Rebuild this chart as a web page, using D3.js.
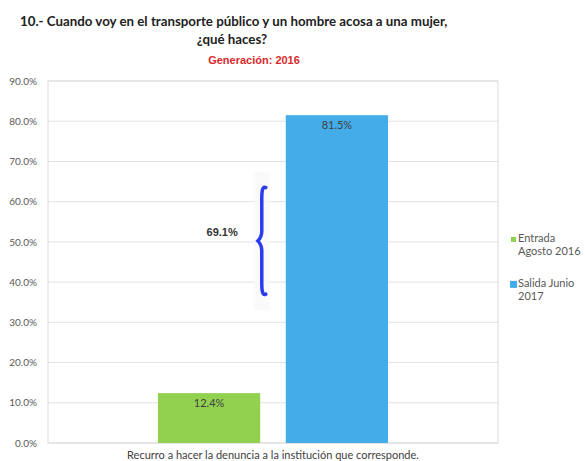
<!DOCTYPE html>
<html>
<head>
<meta charset="utf-8">
<script src="https://cdnjs.cloudflare.com/ajax/libs/d3/7.8.5/d3.min.js"></script>
<style>
  body { margin: 0; background: #fff; }
  svg text { font-family: Lato, "Liberation Sans", sans-serif; }
</style>
</head>
<body>
<div id="chart"></div>
<script>
// data
const categories = ["Recurro a hacer la denuncia a la institución que corresponde."];
const seriesNames = [["Entrada", "Agosto 2016"], ["Salida Junio", "2017"]];
const seriesValues = [12.4, 81.5];
const seriesColors = ["#92d050", "#43ace9"];
const yTicks = [0, 10, 20, 30, 40, 50, 60, 70, 80, 90];
const gapLabel = "69.1%";
const braceRange = [37, 63.5]; // where the brace sits, in % units

const width = 585, height = 461;
const margin = { top: 81, right: 87, bottom: 18, left: 48 };

const svg = d3.select("#chart").append("svg")
    .attr("width", width)
    .attr("height", height);

// titles
svg.append("text")
    .attr("x", 20).attr("y", 26)
    .style("font-size", "13.3px").style("font-weight", "bold").attr("fill", "#222")
    .text("10.- Cuando voy en el transporte público y un hombre acosa a una mujer,");
svg.append("text")
    .attr("x", 232).attr("y", 44).attr("text-anchor", "middle")
    .style("font-size", "13.3px").style("font-weight", "bold").attr("fill", "#222")
    .text("¿qué haces?");
svg.append("text")
    .attr("x", 254).attr("y", 64).attr("text-anchor", "middle")
    .style("font-family", "'Liberation Sans', Arial, sans-serif")
    .style("font-size", "11px").style("font-weight", "bold").attr("fill", "#d9292b")
    .text("Generación: 2016");

const x0 = margin.left, x1 = width - margin.right;
const y0 = height - margin.bottom, y1 = margin.top;

const y = d3.scaleLinear().domain([0, 90]).range([y0, y1]);
const xCat = d3.scaleBand().domain(categories).range([x0, x1]);
const xSeries = d3.scaleBand().domain(d3.range(seriesValues.length))
    .range([0, xCat.bandwidth()]).paddingInner(0.2).paddingOuter(0.86);

// grid
svg.append("g")
    .selectAll("line")
    .data(yTicks)
    .join("line")
    .attr("x1", x0).attr("x2", x1)
    .attr("y1", d => y(d)).attr("y2", d => y(d))
    .attr("stroke", "#e2e2e2").attr("stroke-width", 1);

svg.append("rect")
    .attr("x", x0).attr("y", y1)
    .attr("width", x1 - x0).attr("height", y0 - y1)
    .attr("fill", "none").attr("stroke", "#dcdcdc").attr("stroke-width", 1);

// y axis labels
const yAxis = d3.axisLeft(y).tickValues(yTicks).tickSize(0).tickPadding(11)
    .tickFormat(d => d.toFixed(1) + "%");
svg.append("g")
    .attr("transform", `translate(${x0},0)`)
    .call(yAxis)
    .call(g => g.select(".domain").remove())
    .call(g => g.selectAll("text").style("font-size", "10px").attr("fill", "#595959")
        .style("font-family", "Lato, 'Liberation Sans', sans-serif"));

// x axis label
svg.append("g")
    .attr("transform", `translate(0,${y0})`)
    .call(d3.axisBottom(xCat).tickSize(0).tickPadding(8))
    .call(g => g.select(".domain").remove())
    .call(g => g.selectAll("text").style("font-size", "11px").attr("fill", "#404040")
        .style("font-family", "Lato, 'Liberation Sans', sans-serif"));

// bars
const bars = svg.append("g").attr("transform", `translate(${xCat(categories[0])},0)`);
bars.selectAll("rect")
    .data(seriesValues)
    .join("rect")
    .attr("x", (d, i) => xSeries(i))
    .attr("width", xSeries.bandwidth())
    .attr("y", d => y(d))
    .attr("height", d => y(0) - y(d))
    .attr("fill", (d, i) => seriesColors[i]);

bars.selectAll("text")
    .data(seriesValues)
    .join("text")
    .attr("x", (d, i) => xSeries(i) + xSeries.bandwidth() / 2)
    .attr("y", d => y(d) + 14)
    .attr("text-anchor", "middle")
    .style("font-size", "11px").attr("fill", "#404040")
    .text(d => d.toFixed(1) + "%");

// brace showing the difference
const bx = xCat(categories[0]) + xSeries(1) - 28;
const bTop = y(braceRange[1]), bBot = y(braceRange[0]), bMid = (bTop + bBot) / 2;
svg.append("rect")
    .attr("x", bx - 4).attr("y", bTop - 16)
    .attr("width", 16).attr("height", bBot - bTop + 32)
    .attr("fill", "#f9f9f9").attr("opacity", 0.8);
svg.append("path")
    .attr("d", `M${bx + 8},${bTop} C${bx + 4},${bTop - 2} ${bx + 4},${bTop + 6} ${bx + 4},${bTop + 12}
        L${bx + 4},${bMid - 10} C${bx + 4},${bMid - 4} ${bx},${bMid} ${bx},${bMid}
        C${bx},${bMid} ${bx + 4},${bMid + 4} ${bx + 4},${bMid + 10}
        L${bx + 4},${bBot - 12} C${bx + 4},${bBot - 6} ${bx + 4},${bBot + 2} ${bx + 8},${bBot}`)
    .attr("fill", "none").attr("stroke", "#2b3bf0").attr("stroke-width", 3.5)
    .attr("stroke-linecap", "round");
svg.append("text")
    .attr("x", bx - 20).attr("y", bMid - 5)
    .attr("text-anchor", "end")
    .style("font-family", "'Liberation Sans', Arial, sans-serif")
    .style("font-size", "11px").style("font-weight", "bold").attr("fill", "#333")
    .text(gapLabel);

// legend
const legend = svg.append("g").attr("transform", `translate(${x1 + 12},${y(50)})`);
const items = legend.selectAll("g")
    .data(seriesNames)
    .join("g")
    .attr("transform", (d, i) => `translate(0,${i * 45})`);
items.append("rect")
    .attr("x", (d, i) => i === 0 ? 1 : 0).attr("y", (d, i) => i === 0 ? -5 : -6)
    .attr("width", (d, i) => i === 0 ? 5 : 7).attr("height", (d, i) => i === 0 ? 5 : 7)
    .attr("fill", (d, i) => seriesColors[i]);
items.append("text")
    .attr("x", 8).attr("y", 0)
    .style("font-size", "11px").attr("fill", "#595959")
    .selectAll("tspan")
    .data(d => d)
    .join("tspan")
    .attr("x", 8)
    .attr("dy", (d, i) => i === 0 ? 0 : 13)
    .text(d => d);
</script>
</body>
</html>
